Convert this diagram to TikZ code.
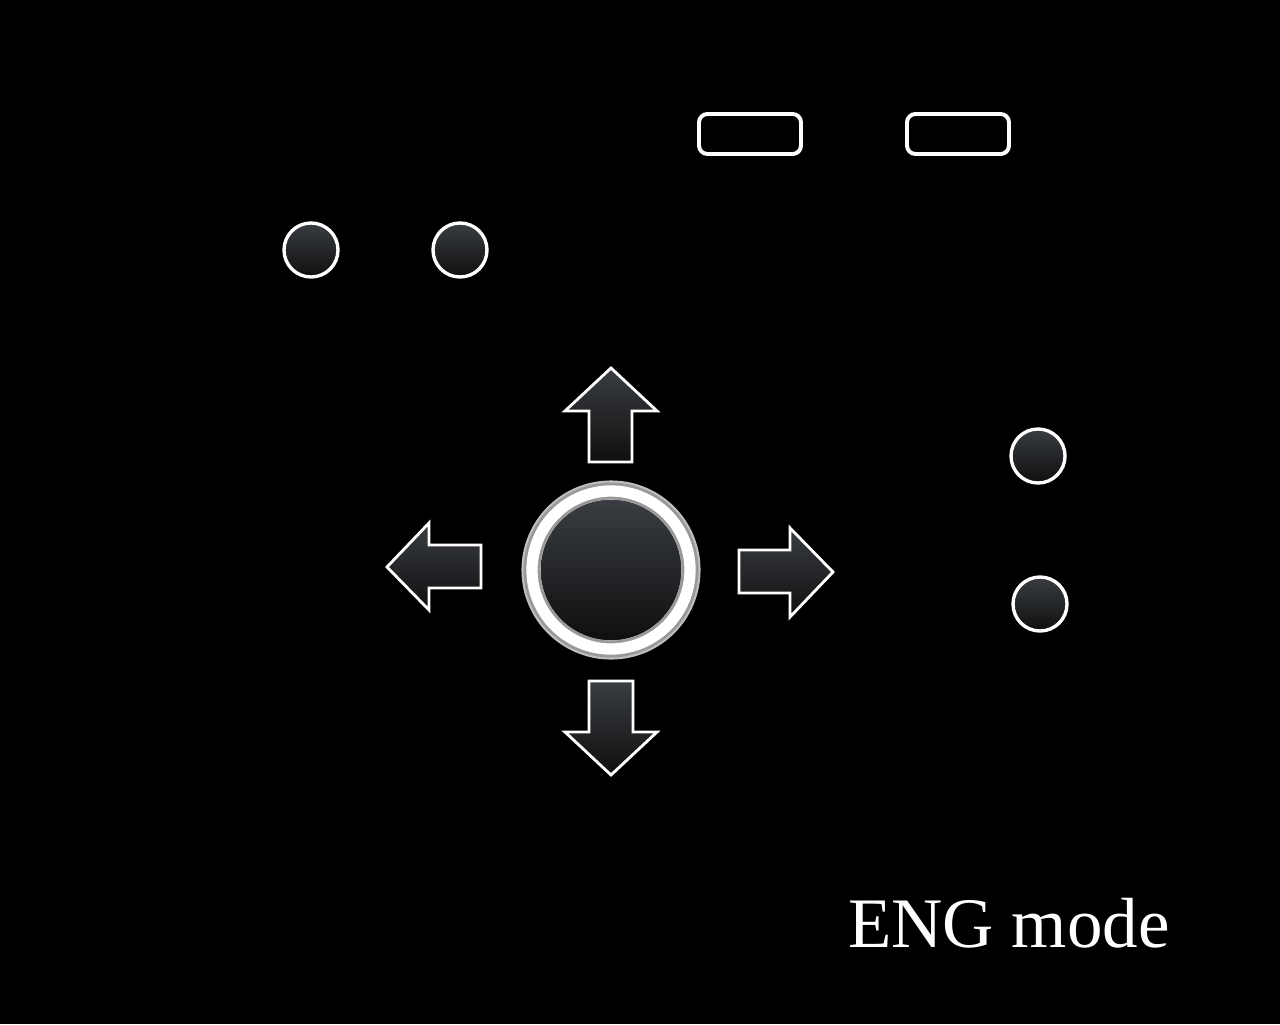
\documentclass[tikz,border=0pt]{standalone}
\usepackage{fontspec}
\setmainfont{Liberation Serif}
\definecolor{btntop}{HTML}{3A3D41}
\definecolor{btnbot}{HTML}{0E0F10}
\begin{document}
\begin{tikzpicture}[x=0.025cm, y=-0.025cm,
    btn/.style={circle, minimum size=1.35cm, inner sep=0pt, draw=white, line width=2.4pt,
        top color=btntop, bottom color=btnbot},
    keyrect/.style={rounded corners=6pt, draw=white, line width=2.8pt, fill=black},
    dirarrow/.style={draw=white, line width=2pt, line join=miter,
        top color=btntop, bottom color=btnbot}]
    % Background
    \fill [black] (0, 0) rectangle (1280, 1024);
    \useasboundingbox (0, 0) rectangle (1280, 1024);

    % Top keys
    \draw [keyrect] (699, 114) rectangle (801, 154);
    \draw [keyrect] (907, 114) rectangle (1009, 154);

    % Small buttons
    \node [btn] (b1) at (311, 250) {};
    \node [btn] (b2) at (460, 250) {};
    \node [btn] (b3) at (1038, 456) {};
    \node [btn] (b4) at (1040, 604) {};

    % Centre button
    \coordinate (c) at (611, 570);
    \draw [gray!50, line width=15pt] (c) circle (79);
    \draw [gray!80!white, line width=12pt] (c) circle (79);
    \draw [white, line width=8pt] (c) circle (79);
    \fill [top color=btntop, bottom color=btnbot] (c) circle (70);

    % Direction arrows
    \draw [dirarrow] (611, 368) -- (657, 411) -- (632, 411) -- (632, 462)
        -- (589, 462) -- (589, 411) -- (565, 411) -- cycle;
    \draw [dirarrow] (611, 775) -- (657, 732) -- (633, 732) -- (633, 681)
        -- (589, 681) -- (589, 732) -- (565, 732) -- cycle;
    \draw [dirarrow] (387, 567) -- (429, 523) -- (429, 545) -- (481, 545)
        -- (481, 588) -- (429, 588) -- (429, 610) -- cycle;
    \draw [dirarrow] (833, 572) -- (790, 528) -- (790, 550) -- (739, 550)
        -- (739, 593) -- (790, 593) -- (790, 617) -- cycle;

    % Mode label
    \node [white, font=\fontsize{50.5}{55}\selectfont, anchor=base west, inner sep=0pt] (mode) at (848, 947) {ENG mode};
\end{tikzpicture}
\end{document}
